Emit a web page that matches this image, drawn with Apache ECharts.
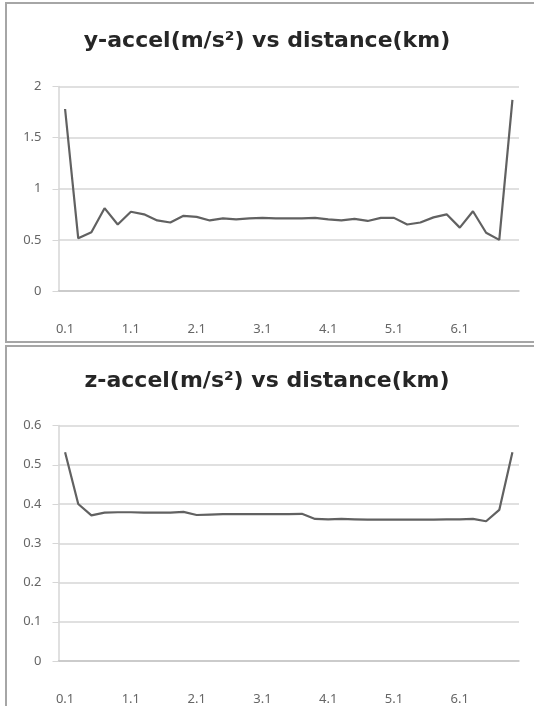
<!DOCTYPE html>
<html>
<head>
<meta charset="utf-8">
<script src="https://cdn.jsdelivr.net/npm/echarts@6/dist/echarts.min.js"></script>
<style>
  html, body { margin: 0; padding: 0; background: #fff; }
  #main { width: 534px; height: 706px; }
</style>
</head>
<body>
<div id="main"></div>
<script>
// distance (km), one category every 0.2 km
const distance = ['0.1', '0.3', '0.5', '0.7', '0.9', '1.1', '1.3', '1.5', '1.7', '1.9',
  '2.1', '2.3', '2.5', '2.7', '2.9', '3.1', '3.3', '3.5', '3.7', '3.9',
  '4.1', '4.3', '4.5', '4.7', '4.9', '5.1', '5.3', '5.5', '5.7', '5.9',
  '6.1', '6.3', '6.5', '6.7', '6.9'];

const yAccel = [1.78, 0.515, 0.575, 0.81, 0.65, 0.775, 0.75, 0.69, 0.67, 0.735,
  0.725, 0.69, 0.71, 0.70, 0.71, 0.715, 0.71, 0.71, 0.71, 0.715,
  0.70, 0.69, 0.705, 0.685, 0.715, 0.715, 0.65, 0.67, 0.72, 0.75,
  0.62, 0.78, 0.57, 0.50, 1.87];

const zAccel = [0.532, 0.40, 0.371, 0.378, 0.379, 0.379, 0.378, 0.378, 0.378, 0.380,
  0.372, 0.373, 0.374, 0.374, 0.374, 0.374, 0.374, 0.374, 0.375, 0.362,
  0.361, 0.362, 0.361, 0.360, 0.360, 0.360, 0.360, 0.360, 0.360, 0.361,
  0.361, 0.362, 0.356, 0.385, 0.532];

const titles = ['y-accel(m/s²) vs distance(km)', 'z-accel(m/s²) vs distance(km)'];

const font = '"Noto Sans", sans-serif';
const titleFont = '"DejaVu Sans", sans-serif';
const gridColor = '#d6d6d6';
const labelColor = '#666';

const myChart = echarts.init(document.getElementById('main'));

const xAxisOf = (gridIndex) => ({
  type: 'category',
  gridIndex: gridIndex,
  data: distance,
  boundaryGap: true,
  axisLine: { lineStyle: { color: '#c4c4c4', width: 1.5 } },
  axisTick: { interval: 0, length: 5, lineStyle: { color: '#c4c4c4' } },
  axisLabel: { interval: 4, margin: 32, color: labelColor, fontSize: 13, fontFamily: font }
});

const yAxisOf = (gridIndex, max, interval) => ({
  type: 'value',
  gridIndex: gridIndex,
  min: 0,
  max: max,
  interval: interval,
  axisLine: { show: true, lineStyle: { color: gridColor, width: 1.5 } },
  axisTick: { show: true, length: 6, lineStyle: { color: gridColor } },
  axisLabel: { margin: 17, color: labelColor, fontSize: 13, fontFamily: font },
  splitLine: { lineStyle: { color: gridColor, width: 1.5 } }
});

const lineOf = (idx, data) => ({
  type: 'line',
  xAxisIndex: idx,
  yAxisIndex: idx,
  data: data,
  symbol: 'none',
  lineStyle: { color: '#616161', width: 2.2 },
  animation: false
});

let option = {
  backgroundColor: '#fff',
  title: [
    {
      text: titles[0], left: 'center', top: 30, padding: 0,
      textStyle: { fontSize: 22, fontWeight: 'bold', color: '#262626', fontFamily: titleFont }
    },
    {
      text: titles[1], left: 'center', top: 370, padding: 0,
      textStyle: { fontSize: 22, fontWeight: 'bold', color: '#262626', fontFamily: titleFont }
    }
  ],
  graphic: [
    { type: 'rect', shape: { x: 6, y: 3, width: 580, height: 339 }, style: { fill: 'none', stroke: '#a6a6a6', lineWidth: 2 }, z: -1 },
    { type: 'rect', shape: { x: 6, y: 346, width: 580, height: 420 }, style: { fill: 'none', stroke: '#a6a6a6', lineWidth: 2 }, z: -1 }
  ],
  grid: [
    { left: 58.5, top: 86.5, right: 15, height: 204.5 },
    { left: 58.5, top: 425.5, right: 15, height: 240 }
  ],
  xAxis: [xAxisOf(0), xAxisOf(1)],
  yAxis: [yAxisOf(0, 2, 0.5), yAxisOf(1, 0.6, 0.1)],
  series: [lineOf(0, yAccel), lineOf(1, zAccel)]
};

option && myChart.setOption(option);
</script>
</body>
</html>
